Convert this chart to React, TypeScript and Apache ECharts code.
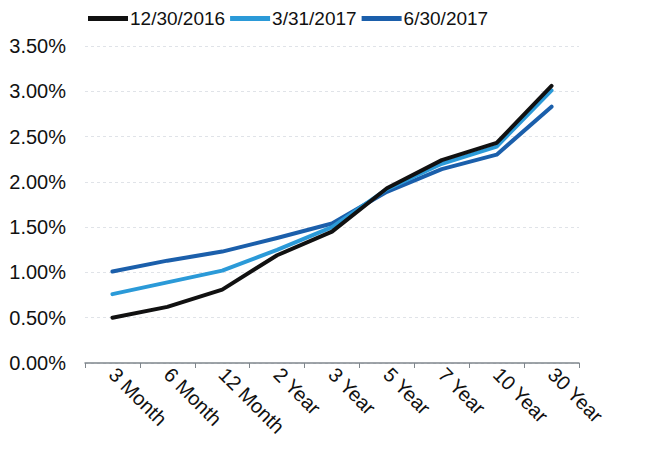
import React, { useEffect, useRef } from "react";
import * as echarts from "echarts";

const categories = ["3 Month", "6 Month", "12 Month", "2 Year", "3 Year", "5 Year", "7 Year", "10 Year", "30 Year"];
const seriesNames = ["12/30/2016", "3/31/2017", "6/30/2017"];
const dec2016 = [0.5, 0.62, 0.81, 1.19, 1.45, 1.93, 2.24, 2.43, 3.06];
const mar2017 = [0.76, 0.89, 1.02, 1.25, 1.5, 1.92, 2.2, 2.39, 3.01];
const jun2017 = [1.01, 1.13, 1.23, 1.38, 1.54, 1.89, 2.14, 2.3, 2.83];
const yTicks = { min: 0, max: 3.5, interval: 0.5 };
const colors = ["#111111", "#2b9ad8", "#1b5fab"];

const FONT = "'Liberation Sans', Arial, sans-serif";

export default function App() {
  const ref = useRef<HTMLDivElement>(null);
  useEffect(() => {
    if (!ref.current) return;
    const chart = echarts.init(ref.current, undefined, { renderer: "svg" });
    const data = [dec2016, mar2017, jun2017];
    chart.setOption({
      animation: false,
      backgroundColor: "#ffffff",
      textStyle: { fontFamily: FONT },
      legend: {
        top: 4,
        left: 83,
        itemWidth: 40,
        itemHeight: 5,
        itemGap: 5,
        icon: "rect",
        textStyle: { fontSize: 19, color: "#111", fontFamily: FONT, padding: [0, 0, 0, -3] },
        data: seriesNames,
      },
      grid: { left: 85, right: 68, top: 46, bottom: 87, containLabel: false },
      xAxis: {
        type: "category",
        data: categories,
        boundaryGap: true,
        axisLine: { lineStyle: { color: "#7f868c", width: 1.5 } },
        axisTick: { show: true, length: 5, lineStyle: { color: "#7f868c" } },
        axisLabel: { rotate: -45, fontSize: 20, color: "#111", margin: 8, fontFamily: FONT, interval: 0 },
        splitLine: { show: false },
      },
      yAxis: {
        type: "value",
        min: yTicks.min,
        max: yTicks.max,
        interval: yTicks.interval,
        axisLine: { show: false },
        axisTick: { show: false },
        axisLabel: {
          fontSize: 20,
          color: "#111",
          margin: 19,
          fontFamily: FONT,
          formatter: (v: number) => v.toFixed(2) + "%",
        },
        splitLine: { lineStyle: { color: "#e0e3e8", type: [3, 3], width: 1 } },
      },
      series: seriesNames.map((name, i) => ({
        name,
        type: "line",
        data: data[i],
        symbol: "none",
        lineStyle: { color: colors[i], width: 4, cap: "round", join: "round" },
        itemStyle: { color: colors[i] },
        z: 3 - i,
      })),
    });
    return () => chart.dispose();
  }, []);
  return <div ref={ref} style={{ width: 647, height: 450, position: "absolute", left: 0, top: 0 }} />;
}
